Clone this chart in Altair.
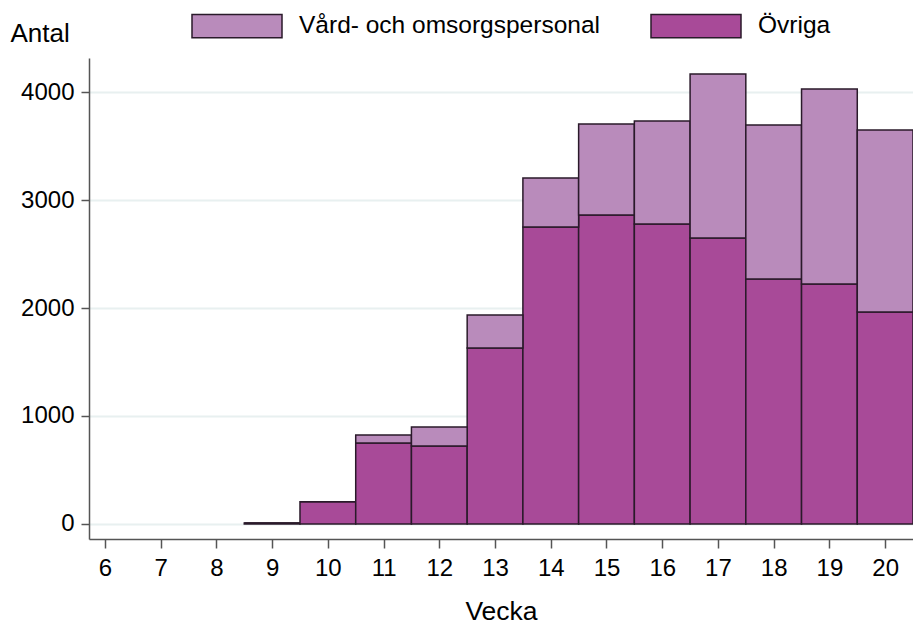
import altair as alt
import pandas as pd

weeks = [9, 10, 11, 12, 13, 14, 15, 16, 17, 18, 19, 20]
ovriga = [10, 205, 750, 722, 1630, 2750, 2861, 2778, 2648, 2269, 2222, 1963]
vard = [0, 0, 74, 176, 305, 454, 843, 953, 1519, 1425, 1806, 1685]
series_names = ["Vård- och omsorgspersonal", "Övriga"]
series_colors = ["#b98bbb", "#a84a98"]
x_ticks = list(range(6, 21))
y_ticks = [0, 1000, 2000, 3000, 4000]

df = pd.DataFrame({"week": weeks, "ovriga": ovriga, "vard": vard})

FONT = "Liberation Sans"
STROKE = "#2a1a2a"

color = alt.Color(
    "series:N",
    scale=alt.Scale(domain=series_names, range=series_colors),
    legend=alt.Legend(
        title=None,
        orient="none",
        direction="horizontal",
        legendX=102,
        legendY=-78,
        symbolType="M-1,-0.26H1V0.26H-1Z",
        symbolSize=8100,
        symbolStrokeColor=STROKE,
        symbolStrokeWidth=1.5,
        symbolOpacity=1,
        labelFontSize=24.5,
        labelFont=FONT,
        labelColor="black",
        labelOffset=16,
        labelLimit=500,
        columnPadding=48,
        padding=0,
    ),
)

xs = alt.X(
    "x0:Q",
    scale=alt.Scale(domain=[5.714, 20.5], nice=False, zero=False),
    axis=alt.Axis(
        values=x_ticks,
        title="Vecka",
        grid=False,
        tickSize=9,
        labelPadding=8,
        titleFontSize=26.5,
        titleY=80,
        titleBaseline="alphabetic",
    ),
)
ys = alt.Y(
    "lo:Q",
    scale=alt.Scale(domain=[-139, 4315], nice=False, zero=False),
    axis=alt.Axis(
        values=y_ticks,
        format="d",
        title="Antal",
        titleAngle=0,
        titleAlign="left",
        titleX=-79,
        titleY=-17,
        titleBaseline="alphabetic",
        titleFontSize=26,
        tickSize=8,
        labelPadding=7,
    ),
)

base = alt.Chart(df).mark_bar(stroke=STROKE, strokeWidth=1.5, opacity=1)

low = base.transform_calculate(
    x0="datum.week - 0.5", x1="datum.week + 0.5", lo="0", hi="datum.ovriga", series="'Övriga'"
).encode(x=xs, x2="x1:Q", y=ys, y2="hi:Q", color=color)

high = base.transform_calculate(
    x0="datum.week - 0.5",
    x1="datum.week + 0.5",
    lo="datum.ovriga",
    hi="datum.ovriga + datum.vard",
    series="'Vård- och omsorgspersonal'",
).encode(x=xs, x2="x1:Q", y=ys, y2="hi:Q", color=color)

chart = (
    alt.layer(low, high)
    .properties(
        width=824,
        height=481,
        autosize=alt.AutoSizeParams(type="none"),
        padding={"left": 81, "top": 50, "right": 0, "bottom": 92},
    )
    .configure_view(stroke=None)
    .configure_axis(
        labelFont=FONT,
        titleFont=FONT,
        labelFontSize=24,
        labelColor="black",
        titleColor="black",
        titleFontWeight="normal",
        domainColor="#555555",
        domainWidth=1.5,
        tickColor="#555555",
        tickWidth=1.5,
        gridColor="#e8f0f0",
        gridWidth=2,
    )
    .configure_axisX(grid=False)
)

chart.save("out.html", embed_options={"renderer": "svg", "actions": False})
